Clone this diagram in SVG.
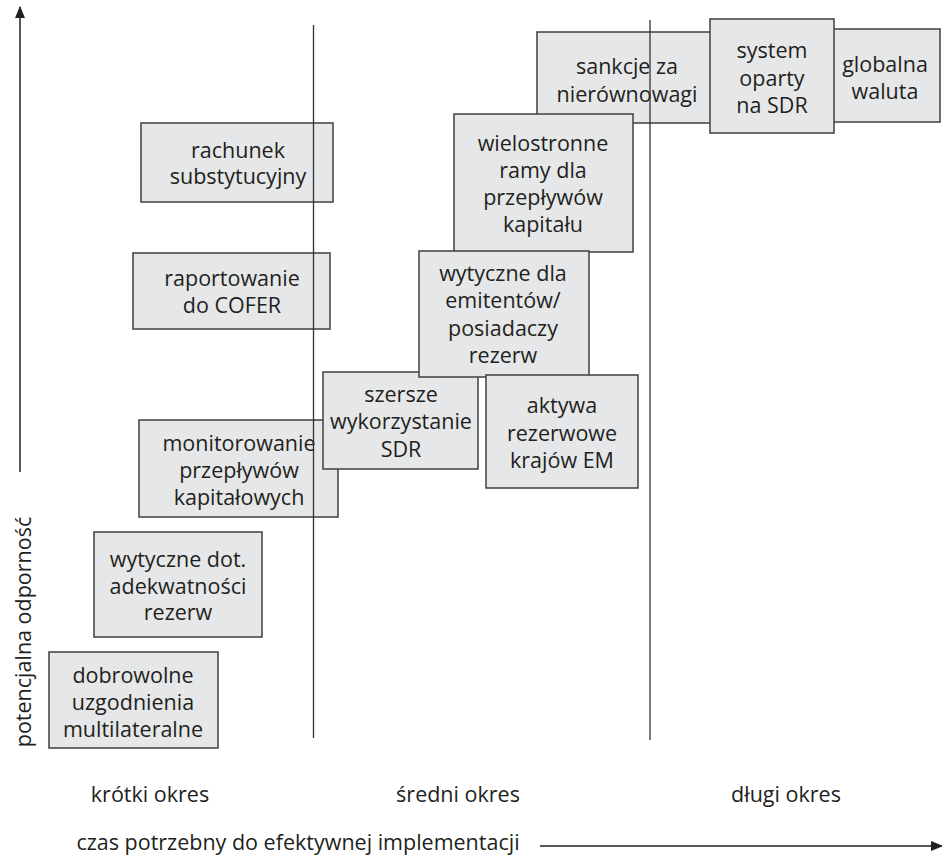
<svg xmlns="http://www.w3.org/2000/svg" width="942" height="857" viewBox="0 0 942 857">
<defs>
<style>
.box{fill:#e6e7e8;stroke:#4a4a4a;stroke-width:1.6}
.t{font-family:"Open Sans","Lato",sans-serif;font-size:21.5px;fill:#231f20;text-anchor:middle}
.ax{stroke:#231f20;stroke-width:1.5;fill:none}
.vl{stroke:#333;stroke-width:1.3;fill:none}
</style>
<marker id="ah" viewBox="0 0 12 10" refX="11" refY="5" markerWidth="12" markerHeight="10" markerUnits="userSpaceOnUse" orient="auto">
<path d="M0,0 L12,5 L0,10 Z" fill="#231f20"/>
</marker>
</defs>
<rect width="942" height="857" fill="#fff"/>

<g id="n-sankcje"><rect class="box" x="537" y="32" width="185" height="91"/>
<text class="t" x="627" y="74">sankcje za</text><text class="t" x="627" y="102">nierównowagi</text></g>
<g id="n-globalna"><rect class="box" x="822" y="29" width="118" height="93"/>
<text class="t" x="885" y="72">globalna</text><text class="t" x="885" y="99">waluta</text></g>
<g id="n-system"><rect class="box" x="710" y="19" width="124" height="114"/>
<text class="t" x="772" y="58">system</text><text class="t" x="772" y="86">oparty</text><text class="t" x="772" y="113">na SDR</text></g>
<g id="n-wielostronne"><rect class="box" x="454" y="114" width="179" height="138"/>
<text class="t" x="543" y="151">wielostronne</text><text class="t" x="543" y="178">ramy dla</text><text class="t" x="543" y="205">przepływów</text><text class="t" x="543" y="232">kapitału</text></g>
<g id="n-rachunek"><rect class="box" x="141" y="123" width="192" height="79"/>
<text class="t" x="238" y="158">rachunek</text><text class="t" x="238" y="184">substytucyjny</text></g>
<g id="n-raportowanie"><rect class="box" x="133" y="253" width="197" height="76"/>
<text class="t" x="232" y="286">raportowanie</text><text class="t" x="232" y="313">do COFER</text></g>
<g id="n-monitorowanie"><rect class="box" x="139" y="420" width="199" height="97"/>
<text class="t" x="239" y="451">monitorowanie</text><text class="t" x="239" y="478">przepływów</text><text class="t" x="239" y="505">kapitałowych</text></g>
<g id="n-szersze"><rect class="box" x="323" y="372" width="155" height="97"/>
<text class="t" x="401" y="402">szersze</text><text class="t" x="401" y="429">wykorzystanie</text><text class="t" x="401" y="457">SDR</text></g>
<g id="n-wytyczne-dla"><rect class="box" x="419" y="251" width="170" height="126"/>
<text class="t" x="503" y="281">wytyczne dla</text><text class="t" x="503" y="308">emitentów/</text><text class="t" x="503" y="336">posiadaczy</text><text class="t" x="503" y="363">rezerw</text></g>
<g id="n-aktywa"><rect class="box" x="486" y="375" width="152" height="113"/>
<text class="t" x="562" y="413">aktywa</text><text class="t" x="562" y="441">rezerwowe</text><text class="t" x="562" y="468">krajów EM</text></g>
<g id="n-wytyczne-dot"><rect class="box" x="94" y="532" width="168" height="105"/>
<text class="t" x="178" y="567">wytyczne dot.</text><text class="t" x="178" y="594">adekwatności</text><text class="t" x="178" y="620">rezerw</text></g>
<g id="n-dobrowolne"><rect class="box" x="49" y="652" width="169" height="96"/>
<text class="t" x="133" y="683">dobrowolne</text><text class="t" x="133" y="710">uzgodnienia</text><text class="t" x="133" y="737">multilateralne</text></g>

<g id="connectors">
<line class="vl" x1="313.5" y1="25" x2="313.5" y2="738"/>
<line class="vl" x1="650" y1="20" x2="650" y2="740"/>
<line class="ax" x1="20" y1="472" x2="20" y2="7" marker-end="url(#ah)"/>
<line class="ax" x1="540" y1="846" x2="942" y2="846" marker-end="url(#ah)"/>
</g>

<g id="labels">
<text class="t" transform="translate(31,632) rotate(-90)">potencjalna odporność</text>
<text class="t" x="150" y="802">krótki okres</text>
<text class="t" x="458" y="802">średni okres</text>
<text class="t" x="786" y="802">długi okres</text>
<text class="t" x="298" y="850">czas potrzebny do efektywnej implementacji</text>
</g>
</svg>
